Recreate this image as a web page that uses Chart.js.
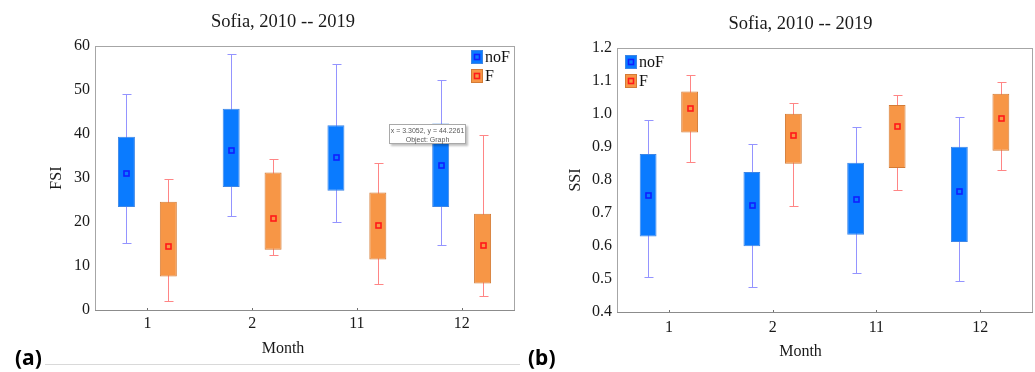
<!DOCTYPE html>
<html><head><meta charset="utf-8">
<script src="https://cdn.jsdelivr.net/npm/chart.js@4/dist/chart.umd.min.js"></script>
<style>
html,body{margin:0;padding:0;background:#fff;}
body{width:1035px;height:372px;position:relative;overflow:hidden;}
#wa{position:absolute;left:0;top:0;width:566px;height:372px;}
#wb{position:absolute;left:566px;top:0;width:469px;height:372px;}
.lab{position:absolute;font-family:"Noto Sans";font-weight:bold;font-size:21px;line-height:24px;color:#000;}
#rule{position:absolute;left:45px;top:364px;width:475px;height:1px;background:#d9d9d9;}
#tip{position:absolute;left:389px;top:124px;width:77px;height:20px;background:#fff;border:1px solid #a9a9a9;box-shadow:2px 2px 2px rgba(0,0,0,0.25);font-family:"Liberation Sans";font-size:7px;color:#5a5a5a;text-align:center;line-height:9px;padding-top:1px;box-sizing:border-box;white-space:nowrap;}
</style></head>
<body>
<div id="wa"><canvas id="ca"></canvas></div>
<div id="wb"><canvas id="cb"></canvas></div>
<div id="rule"></div>
<div class="lab" style="left:15px;top:345px;">(a)</div>
<div class="lab" style="left:528px;top:345px;">(b)</div>
<div id="tip">x = 3.3052, y = 44.2261<br>Object: Graph</div>
<script>
// ---- data ----
const months = ['1', '2', '11', '12'];
const seriesNames = ['noF', 'F'];
const titleText = 'Sofia, 2010 -- 2019';
const xTitle = 'Month';

// (a) FSI
const fsiNoF_min  = [15.2, 21.4, 20.0, 14.8];
const fsiNoF_q1   = [23.4, 28.0, 27.1, 23.4];
const fsiNoF_mean = [31.2, 36.3, 34.7, 33.0];
const fsiNoF_q3   = [39.4, 45.8, 42.0, 42.4];
const fsiNoF_max  = [49.2, 58.2, 55.9, 52.4];
const fsiF_min  = [2.1, 12.6, 5.8, 3.2];
const fsiF_q1   = [7.6, 13.7, 11.5, 6.0];
const fsiF_mean = [14.5, 20.9, 19.4, 14.8];
const fsiF_q3   = [24.6, 31.3, 26.7, 21.9];
const fsiF_max  = [29.8, 34.4, 33.5, 39.7];
const fsiTicks = [0, 10, 20, 30, 40, 50, 60];

// (b) SSI
const ssiNoF_min  = [0.507, 0.477, 0.519, 0.493];
const ssiNoF_q1   = [0.629, 0.599, 0.634, 0.612];
const ssiNoF_mean = [0.755, 0.723, 0.741, 0.766];
const ssiNoF_q3   = [0.879, 0.824, 0.852, 0.901];
const ssiNoF_max  = [0.982, 0.909, 0.961, 0.992];
const ssiF_min  = [0.855, 0.720, 0.770, 0.830];
const ssiF_q1   = [0.944, 0.849, 0.836, 0.889];
const ssiF_mean = [1.017, 0.935, 0.963, 0.989];
const ssiF_q3   = [1.068, 1.001, 1.027, 1.061];
const ssiF_max  = [1.118, 1.033, 1.058, 1.098];
const ssiTicks = [0.4, 0.5, 0.6, 0.7, 0.8, 0.9, 1.0, 1.1, 1.2];

// ---- styles ----
const SERIF = 'Liberation Serif';
const BLUE = '#0a7bff', BLUE_B = '#3d86e6', BLUE_W = '#9494ff', BLUE_M = '#1020ff';
const ORANGE = '#f79646', ORANGE_B = '#d47b35', ORANGE_W = '#ff8585', ORANGE_M = '#ff1a1a';

function boxDataset(label, q1, q3, min, max, mean, fill, border, wcol, mcol) {
  return {
    label,
    data: q1.map((v, i) => [v, q3[i]]),
    backgroundColor: fill, borderColor: border, borderWidth: 1, borderSkipped: false,
    categoryPercentage: 0.8, barPercentage: 0.406,
    stats: { min, max, mean, whisker: wcol, marker: mcol }
  };
}

const boxExtras = {
  id: 'boxExtras',
  beforeDatasetsDraw(chart) {
    const ctx = chart.ctx, ys = chart.scales.y, a = chart.chartArea;
    ctx.save();
    ctx.beginPath(); ctx.rect(a.left, a.top, a.width, a.height); ctx.clip();
    chart.data.datasets.forEach((ds, di) => {
      const meta = chart.getDatasetMeta(di);
      meta.data.forEach((bar, i) => {
        const x = Math.round(bar.x) + 0.5;
        const yl = Math.round(ys.getPixelForValue(ds.stats.min[i])) + 0.5;
        const yh = Math.round(ys.getPixelForValue(ds.stats.max[i])) + 0.5;
        ctx.strokeStyle = ds.stats.whisker; ctx.lineWidth = 1;
        ctx.beginPath();
        ctx.moveTo(x, yl); ctx.lineTo(x, yh);
        ctx.moveTo(x - 4, yl); ctx.lineTo(x + 5, yl);
        ctx.moveTo(x - 4, yh); ctx.lineTo(x + 5, yh);
        ctx.stroke();
      });
    });
    ctx.restore();
  },
  afterDatasetsDraw(chart) {
    const ctx = chart.ctx, ys = chart.scales.y;
    ctx.save();
    chart.data.datasets.forEach((ds, di) => {
      const meta = chart.getDatasetMeta(di);
      meta.data.forEach((bar, i) => {
        const x = Math.round(bar.x) + 0.5;
        const y = Math.round(ys.getPixelForValue(ds.stats.mean[i])) + 0.5;
        ctx.strokeStyle = ds.stats.marker; ctx.lineWidth = 1.6;
        ctx.strokeRect(x - 2.5, y - 2.5, 5, 5);
      });
    });
    ctx.restore();
  },
  afterDraw(chart, args, opts) {
    const ctx = chart.ctx, a = chart.chartArea;
    ctx.save();
    // plot frame
    ctx.strokeStyle = '#a6a6a6'; ctx.lineWidth = 1;
    ctx.strokeRect(Math.round(a.left) + 0.5, Math.round(a.top) + 0.5, Math.round(a.width), Math.round(a.height));
    ctx.strokeStyle = '#8c8c8c';
    ctx.beginPath(); ctx.moveTo(a.left, Math.round(a.bottom) + 0.5); ctx.lineTo(a.right + 1, Math.round(a.bottom) + 0.5); ctx.stroke();
    // small tick marks on x axis
    const xs = chart.scales.x;
    ctx.strokeStyle = '#707070';
    months.forEach((m, i) => {
      const x = Math.round(xs.getPixelForTick(i)) + 0.5;
      ctx.beginPath(); ctx.moveTo(x, a.bottom - 2); ctx.lineTo(x, a.bottom); ctx.stroke();
    });
    // legend
    const bx = opts.side === 'right' ? Math.round(a.right + opts.dx) : Math.round(a.left + opts.dx);
    let by = Math.round(a.top + opts.dy);
    chart.data.datasets.forEach(ds => {
      ctx.fillStyle = ds.backgroundColor;
      ctx.fillRect(bx, by, 12, 14);
      ctx.strokeStyle = ds.borderColor; ctx.lineWidth = 1;
      ctx.strokeRect(bx + 0.5, by + 0.5, 11, 13);
      ctx.strokeStyle = ds.stats.marker; ctx.lineWidth = 1.6;
      ctx.strokeRect(bx + 3.5, by + 4.5, 5, 5);
      ctx.fillStyle = '#111';
      ctx.font = '16px "' + SERIF + '"';
      ctx.textBaseline = 'middle'; ctx.textAlign = 'left';
      ctx.fillText(ds.label, bx + 14, by + 8);
      by += 19;
    });
    ctx.restore();
  }
};

function makeChart(id, cfg) {
  const font = { family: SERIF, size: 16 };
  return new Chart(document.getElementById(id), {
    type: 'bar',
    data: {
      labels: months,
      datasets: [
        boxDataset(seriesNames[0], cfg.nq1, cfg.nq3, cfg.nmin, cfg.nmax, cfg.nmean, BLUE, BLUE_B, BLUE_W, BLUE_M),
        boxDataset(seriesNames[1], cfg.fq1, cfg.fq3, cfg.fmin, cfg.fmax, cfg.fmean, ORANGE, ORANGE_B, ORANGE_W, ORANGE_M)
      ]
    },
    options: {
      responsive: true, maintainAspectRatio: false, animation: false, events: [],
      layout: { padding: 0 },
      plugins: {
        legend: { display: false },
        tooltip: { enabled: false },
        title: { display: true, text: titleText, color: '#1a1a1a', font: { family: SERIF, size: 18.5, weight: 'normal' }, padding: cfg.titlePad },
        subtitle: { display: true, position: 'bottom', text: xTitle, color: '#1a1a1a', font: { family: SERIF, size: 16, weight: 'normal' }, padding: cfg.subPad },
        boxExtras: cfg.legend
      },
      scales: {
        x: {
          type: 'category', offset: true,
          grid: { display: false, drawTicks: false }, border: { display: false },
          ticks: { font, color: '#1a1a1a', padding: cfg.xTickPad },
          afterFit(s) { s.height = cfg.xHeight; }
        },
        y: {
          min: cfg.ticks[0], max: cfg.ticks[cfg.ticks.length - 1],
          afterBuildTicks(s) { s.ticks = cfg.ticks.map(v => ({ value: v })); },
          grid: { display: false, drawTicks: false }, border: { display: false },
          ticks: { font, color: '#1a1a1a', padding: 5, callback: cfg.fmt },
          title: { display: true, text: cfg.yTitle, color: '#1a1a1a', font, padding: { top: cfg.yTitlePad, bottom: 0 } },
          afterFit(s) { s.width = cfg.yWidth; }
        },
        yr: {
          type: 'linear', position: 'right', display: true,
          grid: { display: false, drawTicks: false }, border: { display: false },
          ticks: { display: false },
          afterFit(s) { s.width = cfg.padRight; }
        }
      }
    },
    plugins: [boxExtras]
  });
}

makeChart('ca', {
  nmin: fsiNoF_min, nq1: fsiNoF_q1, nmean: fsiNoF_mean, nq3: fsiNoF_q3, nmax: fsiNoF_max,
  fmin: fsiF_min, fq1: fsiF_q1, fmean: fsiF_mean, fq3: fsiF_q3, fmax: fsiF_max,
  ticks: fsiTicks, fmt: v => String(Math.round(v)), yTitle: 'FSI',
  padRight: 52, yWidth: 95, yTitlePad: 47, xHeight: 28, xTickPad: 4,
  titlePad: { top: 10.9, bottom: 13.1 }, subPad: { top: 1.4, bottom: 13.4 },
  legend: { side: 'right', dx: -43, dy: 4 }
});

makeChart('cb', {
  nmin: ssiNoF_min, nq1: ssiNoF_q1, nmean: ssiNoF_mean, nq3: ssiNoF_q3, nmax: ssiNoF_max,
  fmin: ssiF_min, fq1: ssiF_q1, fmean: ssiF_mean, fq3: ssiF_q3, fmax: ssiF_max,
  ticks: ssiTicks, fmt: v => Number(v).toFixed(1), yTitle: 'SSI',
  padRight: 3, yWidth: 51, yTitlePad: 0, xHeight: 30, xTickPad: 6,
  titlePad: { top: 12.6, bottom: 13.2 }, subPad: { top: 0.4, bottom: 10.4 },
  legend: { side: 'left', dx: 8, dy: 7 }
});
</script>
</body></html>
